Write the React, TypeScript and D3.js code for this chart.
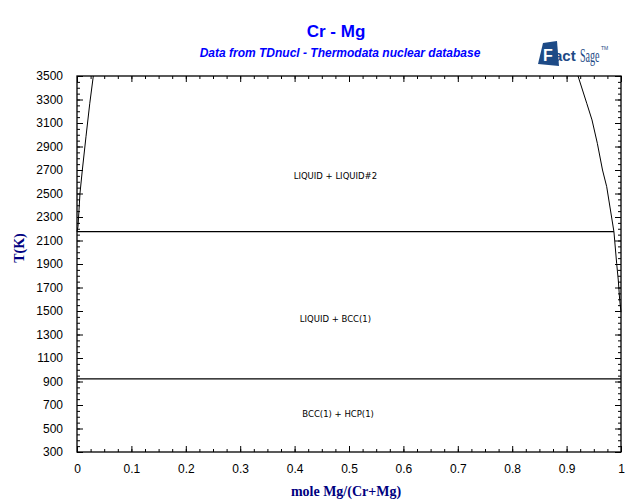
import React, { useRef, useEffect } from "react";
import * as d3 from "d3";

// liquidus / miscibility boundaries
const leftX = [0.0, 0.0018, 0.0037, 0.0055, 0.0098, 0.0165, 0.0235, 0.03];
const leftT = [2175, 2218, 2360, 2502, 2700, 2983, 3268, 3500];
const rightX = [0.921, 0.937, 0.9467, 0.9565, 0.966, 0.9737, 0.987, 0.992, 0.995, 0.9975, 1.0];
const rightT = [3500, 3268, 3126, 2927, 2700, 2558, 2175, 1906, 1764, 1600, 1490];

const invariantT = [2175, 923];
const invariantEnd = [0.987, 1.0];

const regionLabels = ["LIQUID + LIQUID#2", "LIQUID + BCC(1)", "BCC(1) + HCP(1)"];
const regionX = [0.475, 0.475, 0.48];
const regionT = [2625, 1405, 598];

const xMajor = d3.range(0, 11).map((d) => d / 10);
const xMinor = d3.range(0, 41).map((d) => d / 40);
const yMajor = d3.range(300, 3501, 200);
const yMinor = d3.range(300, 3501, 50);

const App: React.FC = () => {
  const svgRef = useRef<SVGSVGElement | null>(null);

  useEffect(() => {
    if (!svgRef.current) return;
    const svg = d3.select(svgRef.current);
    svg.selectAll("*").remove();

    const left = 77, right = 621, top = 76, bottom = 452;
    const x = d3.scaleLinear().domain([0, 1]).range([left, right]);
    const y = d3.scaleLinear().domain([300, 3500]).range([bottom, top]);

    svg.append("rect").attr("width", 640).attr("height", 504).attr("fill", "white");

    // title block
    svg.append("text")
      .attr("x", 336).attr("y", 37)
      .attr("text-anchor", "middle")
      .attr("font-family", "Liberation Sans, Arial, sans-serif")
      .attr("font-weight", "bold").attr("font-size", 17)
      .attr("fill", "#0000ff")
      .text("Cr - Mg");
    svg.append("text")
      .attr("x", 340).attr("y", 57)
      .attr("text-anchor", "middle")
      .attr("font-family", "Liberation Sans, Arial, sans-serif")
      .attr("font-weight", "bold").attr("font-style", "italic").attr("font-size", 12)
      .attr("fill", "#0000ff")
      .text("Data from TDnucl - Thermodata nuclear database");

    // FactSage logo
    const logo = svg.append("g");
    logo.append("path")
      .attr("d", "M543,43 L557,41 L559,66 L538,64 Z")
      .attr("fill", "#1d4a86");
    logo.append("text")
      .attr("x", 543).attr("y", 61)
      .attr("font-family", "Liberation Sans, Arial, sans-serif")
      .attr("font-weight", "bold").attr("font-size", 16)
      .attr("fill", "white").text("F");
    logo.append("text")
      .attr("x", 554).attr("y", 61)
      .attr("font-family", "Liberation Sans, Arial, sans-serif")
      .attr("font-weight", "bold").attr("font-size", 15)
      .attr("fill", "#1d4a86").text("act");
    logo.append("text")
      .attr("transform", "translate(580,62) scale(0.72,1.3)")
      .attr("font-family", "Liberation Serif, serif")
      .attr("font-size", 14)
      .attr("fill", "#1d4a86").text("Sage");
    logo.append("text")
      .attr("x", 601).attr("y", 50)
      .attr("font-family", "Liberation Sans, Arial, sans-serif")
      .attr("font-size", 5)
      .attr("fill", "#1d4a86").text("TM");

    // axes
    const tickFont = (g: d3.Selection<SVGGElement, unknown, null, undefined>) => {
      g.select(".domain").remove();
      g.selectAll("text")
        .attr("font-family", "Liberation Sans, Arial, sans-serif")
        .attr("font-size", 12)
        .attr("fill", "black");
      g.selectAll("line").attr("stroke", "black");
    };
    const fmt = d3.format("");
    const none = () => "";

    svg.append("g").attr("transform", `translate(0,${bottom})`)
      .call(d3.axisBottom(x).tickValues(xMinor).tickSize(-3).tickFormat(none)).call(tickFont);
    svg.append("g").attr("transform", `translate(0,${bottom})`)
      .call(d3.axisBottom(x).tickValues(xMajor).tickSize(-6).tickPadding(12).tickFormat(fmt as any))
      .call(tickFont);
    svg.append("g").attr("transform", `translate(0,${top})`)
      .call(d3.axisTop(x).tickValues(xMinor).tickSize(-3).tickFormat(none)).call(tickFont);
    svg.append("g").attr("transform", `translate(0,${top})`)
      .call(d3.axisTop(x).tickValues(xMajor).tickSize(-6).tickFormat(none)).call(tickFont);

    svg.append("g").attr("transform", `translate(${left},0)`)
      .call(d3.axisLeft(y).tickValues(yMinor).tickSize(-3).tickFormat(none)).call(tickFont);
    svg.append("g").attr("transform", `translate(${left},0)`)
      .call(d3.axisLeft(y).tickValues(yMajor).tickSize(-6).tickPadding(14).tickFormat(fmt as any))
      .call(tickFont);
    svg.append("g").attr("transform", `translate(${right},0)`)
      .call(d3.axisRight(y).tickValues(yMinor).tickSize(-3).tickFormat(none)).call(tickFont);
    svg.append("g").attr("transform", `translate(${right},0)`)
      .call(d3.axisRight(y).tickValues(yMajor).tickSize(-6).tickFormat(none)).call(tickFont);

    svg.append("rect")
      .attr("x", left).attr("y", top)
      .attr("width", right - left).attr("height", bottom - top)
      .attr("fill", "none").attr("stroke", "black").attr("stroke-width", 1.3);

    // phase boundaries
    const curve = (xs: number[], ts: number[]) =>
      d3.line<number>().x((d) => x(d)).y((_, i) => y(ts[i]))(xs);

    svg.append("path").attr("d", curve(leftX, leftT))
      .attr("fill", "none").attr("stroke", "black").attr("stroke-width", 1);
    svg.append("path").attr("d", curve(rightX, rightT))
      .attr("fill", "none").attr("stroke", "black").attr("stroke-width", 1);

    svg.selectAll(".inv").data(invariantT).enter().append("line")
      .attr("x1", x(0)).attr("x2", (_, i) => x(invariantEnd[i]))
      .attr("y1", (d) => y(d)).attr("y2", (d) => y(d))
      .attr("stroke", "black").attr("stroke-width", 1.2);

    svg.selectAll(".lbl").data(regionLabels).enter().append("text")
      .attr("x", (_, i) => x(regionX[i])).attr("y", (_, i) => y(regionT[i]))
      .attr("text-anchor", "middle")
      .attr("font-family", "DejaVu Sans, sans-serif")
      .attr("font-size", 8.5)
      .attr("fill", "black")
      .text((d) => d);

    // axis titles
    svg.append("text")
      .attr("transform", "translate(24,248) rotate(-90)")
      .attr("text-anchor", "middle")
      .attr("font-family", "Liberation Serif, Times New Roman, serif")
      .attr("font-weight", "bold").attr("font-size", 14)
      .attr("fill", "#000080")
      .text("T(K)");
    svg.append("text")
      .attr("x", 346).attr("y", 496)
      .attr("text-anchor", "middle")
      .attr("font-family", "Liberation Serif, Times New Roman, serif")
      .attr("font-weight", "bold").attr("font-size", 14)
      .attr("fill", "#000080")
      .text("mole Mg/(Cr+Mg)");
  }, []);

  return (
    <svg
      ref={svgRef}
      width={640}
      height={504}
      style={{ position: "absolute", left: 0, top: 0 }}
    />
  );
};

export default App;
